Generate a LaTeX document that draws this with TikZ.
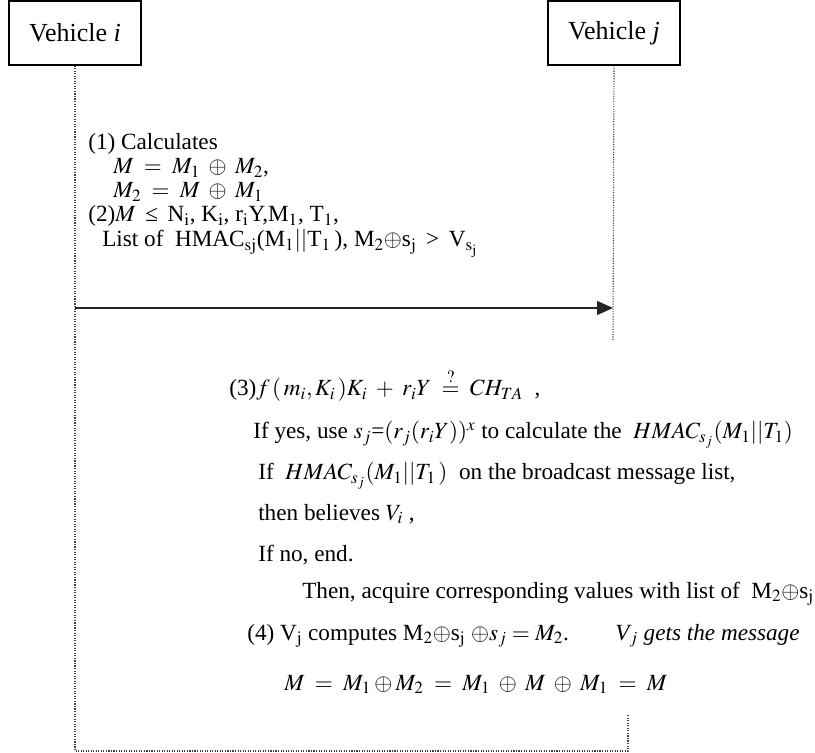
\documentclass[tikz,border=0pt]{standalone}
\usepackage{mathptmx}
\usepackage{fontspec}
\setmainfont{Liberation Serif}
\usetikzlibrary{positioning,arrows.meta}

\begin{document}
\begin{tikzpicture}[x=0.025cm, y=-0.025cm, font=\fontsize{16.5}{19}\selectfont,
  vehicle/.style={draw, line width=0.8pt, minimum width=3.3cm, minimum height=1.6cm, font=\fontsize{18.5}{20}\selectfont},
  lifeline/.style={densely dotted, line width=0.8pt, color=black!75},
  txt/.style={anchor=base west, inner sep=0pt}]
\useasboundingbox (0,0) rectangle (815,753);
% the two vehicles
\node[vehicle] (vi) at (75,33) {Vehicle \textit{i}};
\node[vehicle] (vj) at (614,33) {Vehicle \textit{j}};
% lifelines
\coordinate (vi end) at (75,751);
\coordinate (corner) at (628,751);
\coordinate (vj back) at (628,715);
\coordinate (vj end) at (613,341);
\draw[lifeline] (vi.south) -- (vi end) -- (corner) -- (vj back);
\draw[lifeline] (vj.south) -- (vj end);
% broadcast message
\coordinate (send) at (75,308);
\coordinate (recv) at (613,308);
\draw[-{Triangle[length=0.4cm,width=0.35cm]}, line width=1pt, color=black!85] (send) -- (recv);
% steps of vehicle i
\node[txt] (c1) at (88,150) {(1) Calculates};
\node[txt] (c2) at (113,174) {$M \;=\; M_1 \;\oplus\; M_2$,};
\node[txt] (c3) at (113,198) {$M_2 \;=\; M \;\oplus\; M_1$};
\node[txt] (c4) at (88,222) {(2)$M$ \,≤\, N$_\mathrm{i}$, K$_\mathrm{i}$, r$_\mathrm{i}$Y,M$_1$, T$_1$,};
\node[txt] (c5) at (102,247) {List of \ HMAC$_\mathrm{sj}$(M$_1||$T$_1$\,), M$_2\oplus$s$_\mathrm{j}$ \,>\, V$_{\mathrm{s}_\mathrm{j}}$};
% steps of vehicle j
\node[txt] (v1) at (229,396) {(3)$f\,(\,m_i, K_i\,)K_i \;+\; r_iY \;\stackrel{?}{=}\; CH_{TA}$ \ ,};
\node[txt] (v2) at (253,439) {If yes, use $s_j$=$(r_j(r_iY))^x$ to calculate the \ $HMAC_{s_j}(M_1||T_1)$};
\node[txt] (v3) at (258,480) {If \ $HMAC_{s_j}(M_1||T_1\,)$ \ on the broadcast message list,};
\node[txt] (v4) at (258,520) {then believes $V_i$ ,};
\node[txt] (v5) at (258,561) {If no, end.};
\node[txt] (v6) at (302,598) {Then, acquire corresponding values with list of \ M$_2\oplus$s$_\mathrm{j}$};
\node[txt] (v7) at (247,640) {(4) V$_\mathrm{j}$ computes M$_2\oplus$s$_\mathrm{j}$ $\oplus s_j = M_2$.\qquad \textit{V$_j$ gets the message}};
\node[txt] (v8) at (284,690) {$M \;=\; M_1 \oplus M_2 \;=\; M_1 \;\oplus\; M \;\oplus\; M_1 \;=\; M$};
\end{tikzpicture}
\end{document}
